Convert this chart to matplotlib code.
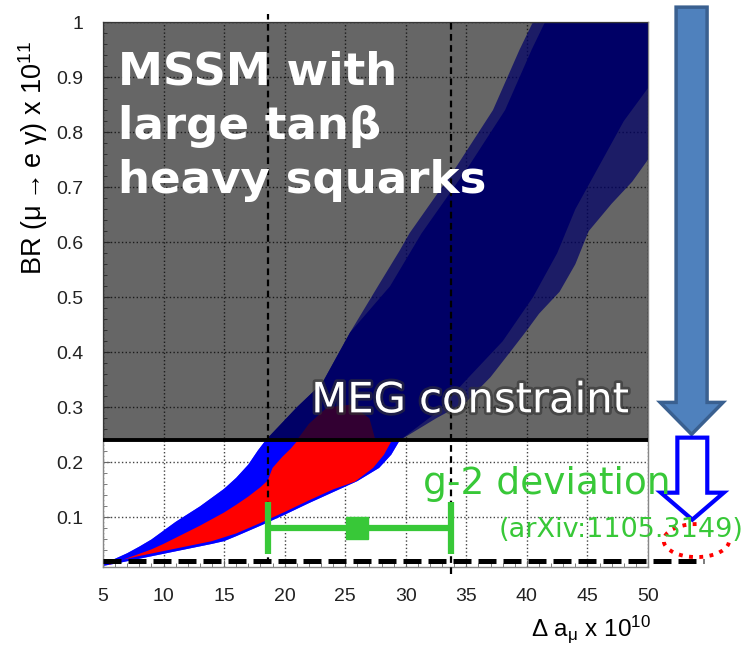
import matplotlib
matplotlib.use('Agg')
import matplotlib.pyplot as plt
from matplotlib.patches import FancyArrow, Arc
import matplotlib.patheffects as pe

plt.rcParams['font.family'] = ['Liberation Sans', 'DejaVu Sans']
plt.rcParams['mathtext.default'] = 'regular'

# edges of the scan
upper_x = [5.0, 6.0, 7.0, 8.0, 9.0, 10.0, 11.0, 12.0, 13.0, 14.0, 15.0, 16.0, 17.0, 17.8,
           18.5, 21.0, 23.1, 25.4, 27.7, 29.5, 30.3, 34.2, 37.2, 39.4, 40.5]
upper_y = [0.015, 0.025, 0.035, 0.047, 0.06, 0.076, 0.092, 0.106, 0.12, 0.136, 0.152, 0.172,
           0.196, 0.222, 0.242, 0.30, 0.344, 0.436, 0.52, 0.585, 0.616, 0.738, 0.84, 0.95, 1.0]
lower_x = [5.0, 6.0, 8.0, 10.0, 12.0, 14.0, 15.0, 16.0, 18.0, 20.0, 22.0, 24.0, 26.0, 27.8,
           28.8, 29.5]
lower_y = [0.012, 0.016, 0.025, 0.034, 0.043, 0.052, 0.057, 0.066, 0.085, 0.105, 0.126,
           0.146, 0.166, 0.19, 0.214, 0.24]
# right edge of the sparse points above the MEG bound
sparse_x = [29.5, 31.0, 32.5, 35.0, 37.0, 38.6, 40.0, 41.0, 42.7, 44.0, 45.1, 47.0, 48.7, 50.0]
sparse_y = [0.24, 0.26, 0.28, 0.31, 0.355, 0.40, 0.44, 0.47, 0.51, 0.56, 0.62, 0.67, 0.71, 0.75]
# right edge of the dense part
dense_x = [29.5, 32.5, 35.0, 38.0, 40.5, 42.5, 44.0, 46.0, 48.0, 50.0]
dense_y = [0.24, 0.29, 0.35, 0.42, 0.50, 0.58, 0.66, 0.74, 0.82, 0.88]
dense_left_x = [28.7, 31.3, 35.2, 38.2, 40.4, 41.5]
dense_left_y = [0.52, 0.616, 0.738, 0.84, 0.95, 1.0]

# red points (below the MEG bound)
red_up_x = [5.5, 7.0, 8.0, 9.0, 10.0, 11.0, 12.0, 13.0, 14.0, 15.0, 16.0, 17.0, 18.0, 18.6,
            19.0, 19.8, 20.5, 21.0, 22.0]
red_up_y = [0.014, 0.026, 0.034, 0.042, 0.052, 0.063, 0.074, 0.085, 0.097, 0.109, 0.123,
            0.138, 0.155, 0.167, 0.19, 0.21, 0.225, 0.238, 0.242]
red_low_x = [27.5, 28.8, 28.2, 27.3, 25.8, 24.0, 22.0, 20.0, 18.0, 16.0, 14.0, 12.0, 10.0,
             8.0, 6.0, 5.5]
red_low_y = [0.242, 0.238, 0.214, 0.19, 0.165, 0.151, 0.131, 0.11, 0.09, 0.071, 0.057, 0.048,
             0.039, 0.03, 0.02, 0.016]
# a few red points above the bound
red_top_x = [21.0, 22.0, 23.5, 25.5, 27.0, 27.5]
red_top_y = [0.24, 0.27, 0.30, 0.305, 0.28, 0.24]

meg_limit = 0.24
meg_future = 0.02
g2_center = 26.0
g2_lo = 18.6
g2_hi = 33.7

green = '#38c838'

fig = plt.figure(figsize=(7.48, 6.53), dpi=100)
ax = fig.add_axes([0.1377, 0.1317, 0.7286, 0.8346])

# whole cloud: upper edge, along the top, down the sparse right edge, back along the lower edge
cloud_x = upper_x + [50.0] + sparse_x[::-1] + lower_x[::-1]
cloud_y = upper_y + [1.0] + sparse_y[::-1] + lower_y[::-1]
n_low = sum(1 for y in upper_y if y < 0.5)
core_x = upper_x[:n_low] + dense_left_x + [50.0] + dense_x[::-1] + lower_x[::-1]
core_y = upper_y[:n_low] + dense_left_y + [1.0] + dense_y[::-1] + lower_y[::-1]

ax.fill(cloud_x, cloud_y, color='#0000ff', alpha=0.72, lw=0, zorder=1)
ax.fill(core_x, core_y, color='#0000ff', lw=0, zorder=1.1)
ax.fill(red_up_x + red_low_x, red_up_y + red_low_y, color='#ff0000', lw=0, zorder=1.2)
ax.fill(red_top_x, red_top_y, color='#ff0000', alpha=0.5, lw=0, zorder=1.2)

# grey shading of the excluded region
ax.axhspan(meg_limit, 1.0, color='black', alpha=0.6, lw=0, zorder=3)
ax.axhline(meg_limit, color='black', lw=2.8, zorder=4)

ax.plot([5, 54.6], [meg_future, meg_future], color='black', lw=3.6, dashes=(3.6, 1.4),
        clip_on=False, zorder=4)
ax.plot([g2_lo, g2_lo], [0.015, 1.015], color='black', lw=1.6, dashes=(3, 2),
        clip_on=False, zorder=4)
ax.plot([g2_hi, g2_hi], [-0.002, 1.0], color='black', lw=1.6, dashes=(3, 2),
        clip_on=False, zorder=4)

ax.errorbar(g2_center, 0.08, xerr=[[g2_center - g2_lo], [g2_hi - g2_center]], fmt='s',
            color=green, ms=16, lw=4.5, capsize=19, capthick=4.5, zorder=6)

ax.set_xlim(5, 50)
ax.set_ylim(0.01, 1.0)
ax.set_xticks(range(5, 51, 5))
ax.set_yticks([0.1, 0.2, 0.3, 0.4, 0.5, 0.6, 0.7, 0.8, 0.9, 1.0])
ax.set_yticklabels(['0.1', '0.2', '0.3', '0.4', '0.5', '0.6', '0.7', '0.8', '0.9', '1'])
ax.set_xticks(range(5, 51), minor=True)
ax.set_yticks([i / 50 for i in range(1, 51)], minor=True)
ax.tick_params(which='both', direction='in', color='#666666', labelsize=14,
               labelcolor='#222222')
ax.tick_params(which='major', length=5)
ax.tick_params(which='minor', length=3)
ax.tick_params(axis='x', pad=15)
ax.tick_params(axis='y', pad=14)
ax.grid(True, which='major', ls=':', color='#444444', lw=1, zorder=0.5)
ax.set_axisbelow(True)
for s in ax.spines.values():
    s.set_color('#888888')
    s.set_linewidth(1)

ax.set_ylabel('BR (μ$\\rightarrow$e γ) x 10$^{11}$', fontsize=19.5)
ax.yaxis.set_label_coords(-0.097, 0.75)
ax.set_xlabel('Δ a$_{μ}$ x 10$^{10}$', fontsize=17.5)
ax.xaxis.set_label_coords(0.895, -0.085)

ax.text(6.24, 0.948, 'MSSM with\nlarge tanβ\nheavy squarks', color='white',
        fontsize=32.5, fontweight='bold', family='DejaVu Sans', va='top', ha='left',
        linespacing=1.33, zorder=7)
ax.text(22.2, 0.291, 'MEG constraint', color='white', fontsize=30, family='DejaVu Sans',
        va='baseline', ha='left', zorder=7,
        path_effects=[pe.withStroke(linewidth=4, foreground='#333333', alpha=0.6)])

# arrows on the right
ax.add_patch(FancyArrow(53.6, 1.027, 0, 0.251 - 1.027, width=2.56, head_width=5.19,
                        head_length=0.058, length_includes_head=True, fc='#4f81bd',
                        ec='#3a6090', lw=2.5, clip_on=False, zorder=5))
ax.add_patch(FancyArrow(53.66, 0.245, 0, 0.096 - 0.245, width=2.47, head_width=5.19,
                        head_length=0.049, length_includes_head=True, fc='white',
                        ec='#0000ff', lw=3, clip_on=False, zorder=5))
ax.add_patch(Arc((54.0, 0.058), width=5.4, height=0.06, theta1=70, theta2=360,
                 ec='#ff0000', ls=':', lw=2.8, clip_on=False, zorder=5))

ax.text(31.4, 0.142, 'g-2 deviation', color=green, fontsize=27, family='DejaVu Sans',
        va='baseline', ha='left', zorder=8)
ax.text(37.7, 0.064, '(arXiv:1105.3149)', color=green, fontsize=19.5, family='DejaVu Sans',
        va='baseline', ha='left', zorder=8)

fig.savefig('out.png', dpi=100)
